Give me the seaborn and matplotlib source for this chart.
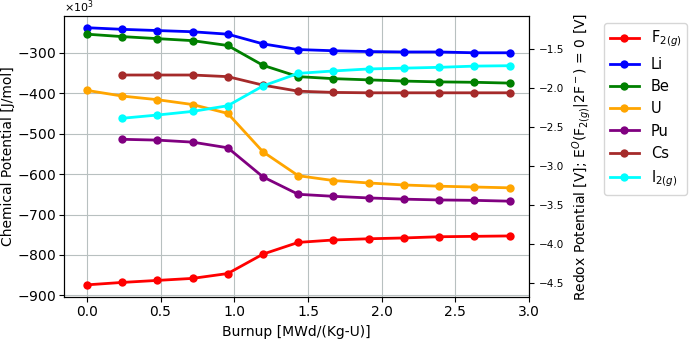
import numpy as np
import pandas as pd
import matplotlib
matplotlib.use('Agg')
import matplotlib.pyplot as plt
import seaborn as sns

# burnup steps [MWd/(Kg-U)]
burnup = [0.0, 0.239, 0.478, 0.717, 0.956, 1.195, 1.434, 1.673, 1.912, 2.151, 2.39, 2.629, 2.868]

# chemical potentials in kJ/mol (plotted as J/mol)
f2 = [-874, -868, -863, -858, -846, -798, -769, -763, -760, -758, -755, -754, -753]
li = [-238, -242, -245, -248, -254, -278, -292, -295, -297, -298, -298, -300, -300]
be = [-254, -260, -265, -270, -282, -331, -359, -364, -367, -370, -372, -373, -375]
u = [-393, -407, -416, -428, -450, -545, -604, -616, -622, -627, -630, -632, -634]
pu = [np.nan, -514, -516, -521, -535, -607, -650, -655, -659, -662, -664, -665, -667]
cs = [np.nan, -355, -355, -355, -359, -380, -395, -398, -399, -399, -399, -399, -399]
i2 = [np.nan, -462, -454, -445, -431, -382, -351, -345, -340, -338, -336, -333, -332]

species = ['F$_{2(g)}$', 'Li', 'Be', 'U', 'Pu', 'Cs', 'I$_{2(g)}$']
colors = ['red', 'blue', 'green', 'orange', 'purple', 'brown', 'cyan']
series = [f2, li, be, u, pu, cs, i2]

FARADAY = 96485.0

rows = []
for name, vals in zip(species, series):
    for x, v in zip(burnup, vals):
        if not np.isnan(v):
            rows.append({'burnup': x, 'mu': v * 1000, 'species': name})
df = pd.DataFrame(rows)

fig = plt.figure(figsize=(6.92, 3.4), dpi=100)
ax = fig.add_axes([0.0925, 0.1265, 0.672, 0.8265])

sns.lineplot(data=df, x='burnup', y='mu', hue='species', hue_order=species,
             palette=colors, marker='o', markersize=6, markeredgewidth=0,
             linewidth=2, ax=ax)

ax.set_xlim(-0.155, 3.0)
ax.set_ylim(-904000, -209000)
ax.set_xticks([0.0, 0.5, 1.0, 1.5, 2.0, 2.5, 3.0])
ax.ticklabel_format(axis='y', style='sci', scilimits=(3, 3), useMathText=True)
ax.yaxis.get_offset_text().set_fontsize(8)
ax.grid(True, color='#b8c0c0', linewidth=0.8)
ax.set_xlabel('Burnup [MWd/(Kg-U)]', fontsize=10)
ax.set_ylabel('Chemical Potential [J/mol]', fontsize=10, labelpad=1)
ax.tick_params(labelsize=10, pad=2.5)

# redox potential axis: E = mu / (2F)
ax2 = ax.twinx()
lo, hi = ax.get_ylim()
ax2.set_ylim(lo / (2 * FARADAY), hi / (2 * FARADAY))
ax2.set_yticks([-1.5, -2.0, -2.5, -3.0, -3.5, -4.0, -4.5])
ax2.tick_params(labelsize=7.5)
ax2.set_ylabel('Redox Potential [V]; E$^O$(F$_{2(g)}$|2F$^-$) = 0 [V]', fontsize=10)

handles, labels = ax.get_legend_handles_labels()
ax.legend(handles, labels, loc='upper left', bbox_to_anchor=(604 / 692, 1 - 23 / 340),
          bbox_transform=fig.transFigure, fontsize=10.5, borderaxespad=0)

fig.savefig('out.png', dpi=100)
